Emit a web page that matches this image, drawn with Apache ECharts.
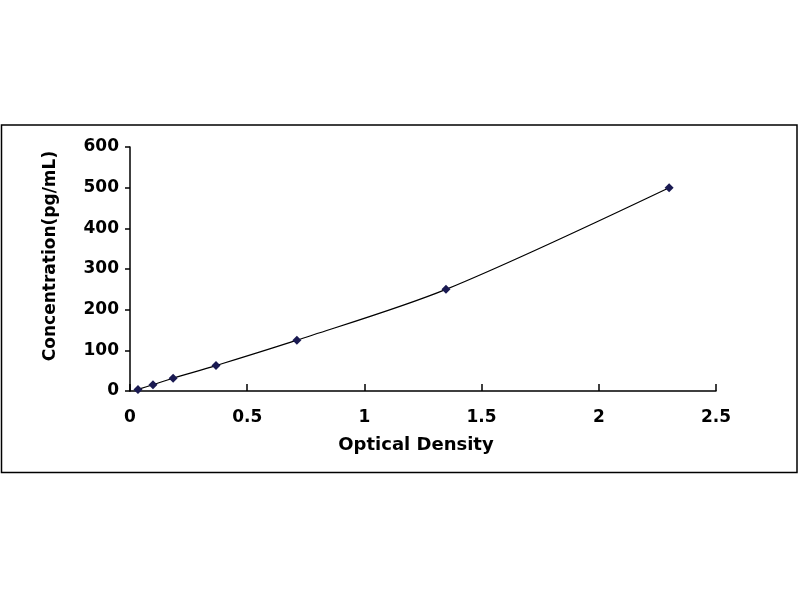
<!DOCTYPE html>
<html>
<head>
    <meta charset="utf-8">
    <title>Standard Curve</title>
    <script src="https://cdn.jsdelivr.net/npm/echarts@6/dist/echarts.min.js"></script>
    <style>
        *{
            padding: 0;
            margin: 0;
        }
        html, body{
            width: 800px;
            height: 600px;
            background: #fff;
        }
        #main{
            width: 800px;
            height: 600px;
        }
    </style>
</head>
<body>
    <div id="main"></div>
</body>
<script>
    // 读图估计的数据
    var od = [0.034, 0.098, 0.184, 0.367, 0.712, 1.348, 2.3];
    var conc = [3.9, 15.6, 31.25, 62.5, 125, 250, 500];
    var xTicks = [0, 0.5, 1, 1.5, 2, 2.5];
    var yTicks = [0, 100, 200, 300, 400, 500, 600];

    var points = [];
    for (var i = 0; i < od.length; i++) {
        points.push([od[i], conc[i]]);
    }

    var font = 'DejaVu Sans';
    var myChart = echarts.init(document.getElementById('main'));

    myChart.setOption({
        animation: false,
        backgroundColor: '#fff',
        graphic: [{
            type: 'rect',
            shape: { x: 1.5, y: 125, width: 795.5, height: 347.5 },
            style: { fill: 'none', stroke: '#000', lineWidth: 1.5 },
            z: -1
        }],
        grid: {
            left: 130,
            right: 84,
            top: 147,
            bottom: 209
        },
        xAxis: {
            type: 'value',
            min: xTicks[0],
            max: xTicks[xTicks.length - 1],
            interval: 0.5,
            name: 'Optical Density',
            nameLocation: 'middle',
            nameGap: 45,
            nameTextStyle: { fontFamily: font, fontWeight: 'bold', fontSize: 18, color: '#000', padding: [0, 14, 0, 0] },
            axisLine: { lineStyle: { color: '#000', width: 1.5 } },
            axisTick: { inside: true, length: 7, lineStyle: { color: '#000', width: 1.5 } },
            axisLabel: { margin: 18, fontFamily: font, fontWeight: 'bold', fontSize: 17, color: '#000' },
            splitLine: { show: false }
        },
        yAxis: {
            type: 'value',
            min: yTicks[0],
            max: yTicks[yTicks.length - 1],
            interval: 100,
            name: 'Concentration(pg/mL)',
            nameLocation: 'middle',
            nameGap: 71,
            nameTextStyle: { fontFamily: font, fontWeight: 'bold', fontSize: 17, color: '#000', padding: [0, 0, 0, 26] },
            axisLine: { show: true, lineStyle: { color: '#000', width: 1.5 } },
            axisTick: { show: true, length: 5, lineStyle: { color: '#000', width: 1.5 } },
            axisLabel: { margin: 11, fontFamily: font, fontWeight: 'bold', fontSize: 17, color: '#000' },
            splitLine: { show: false }
        },
        series: [{
            type: 'line',
            data: points,
            smooth: 0.3,
            symbol: 'diamond',
            symbolSize: 9,
            itemStyle: { color: '#1a1a52' },
            lineStyle: { color: '#000', width: 1.2 }
        }]
    });
</script>
</html>
